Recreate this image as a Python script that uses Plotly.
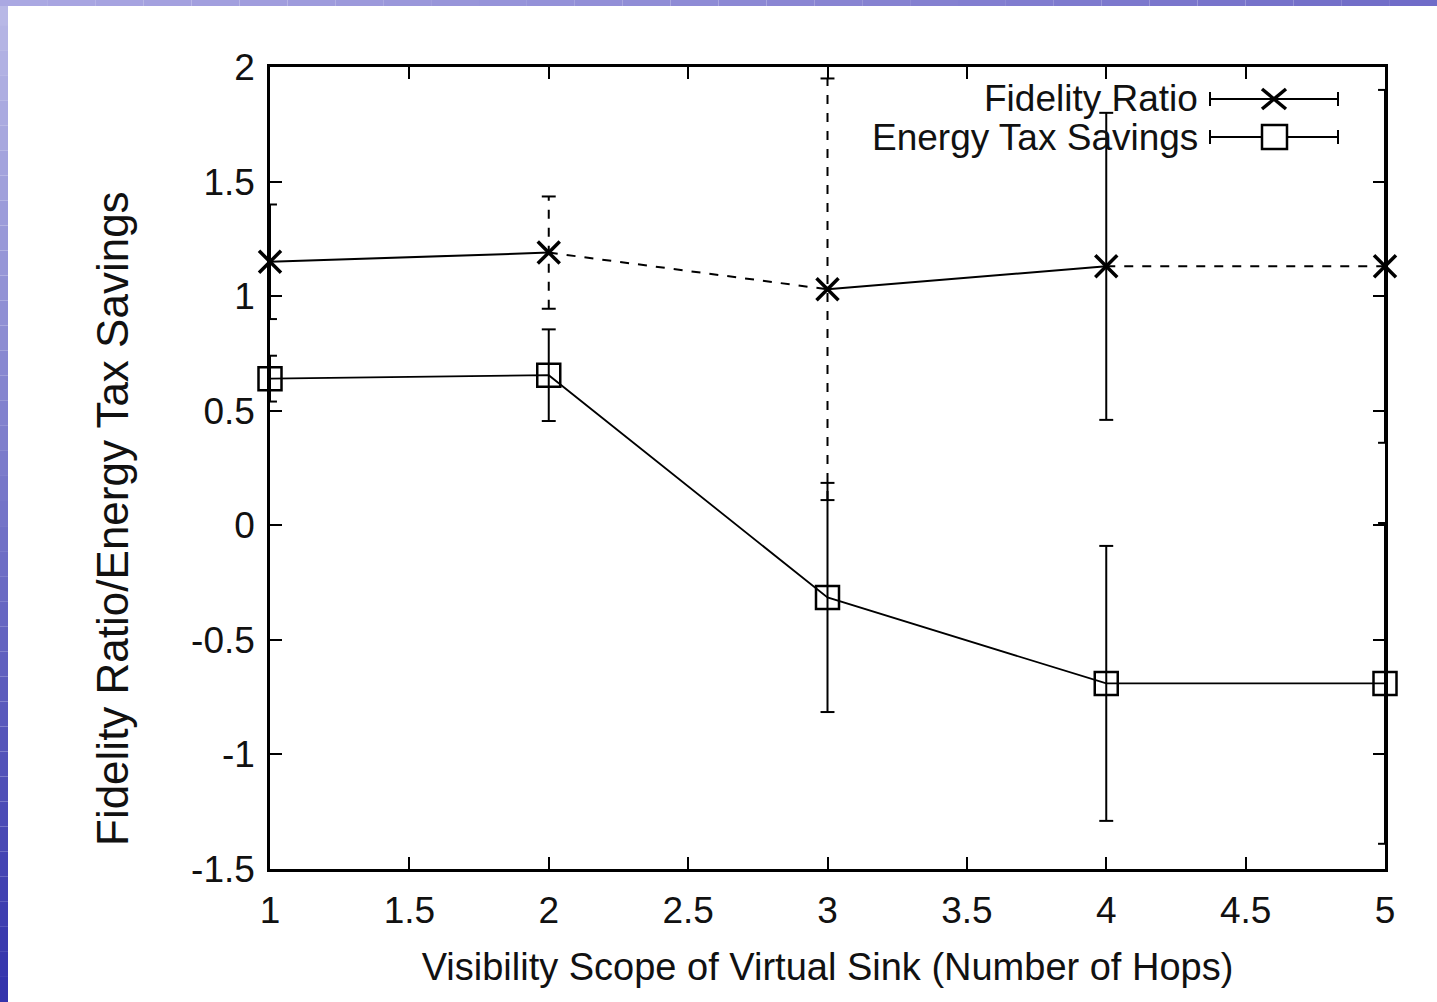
import plotly.graph_objects as go

# ---------------- data ----------------
hops = [1, 2, 3, 4, 5]
fidelity_ratio = [1.15, 1.19, 1.03, 1.13, 1.13]
fidelity_err = [0.25, 0.245, 0.92, 0.67, 0.77]
energy_savings = [0.64, 0.655, -0.315, -0.69, -0.69]
energy_err = [0.10, 0.20, 0.50, 0.60, 0.70]

x_ticks = [1, 1.5, 2, 2.5, 3, 3.5, 4, 4.5, 5]
y_ticks = [-1.5, -1, -0.5, 0, 0.5, 1, 1.5, 2]

series_names = ["Fidelity Ratio", "Energy Tax Savings"]
x_title = "Visibility Scope of Virtual Sink (Number of Hops)"
y_title = "Fidelity Ratio/Energy Tax Savings"

# ---------------- style ----------------
W, H = 1437, 1002
L, R, T, B = 270, 52, 67, 133
FONT = "Liberation Sans, Arial, sans-serif"
INK = "#000000"
TXT = "#111111"
CAP = 0.025  # half cap width in x-units
fid_seg_dash = ["solid", "dash", "solid", "dash"]
fid_bar_dash = ["solid", "dash", "dash", "solid", "solid"]


def fmt(v):
    return "%g" % v


def px(xp):
    return (xp - L) / (W - L - R)


def py(yp):
    return (H - B - yp) / (H - T - B)


fig = go.Figure()


def add_errbars(xs, ys, es, dashes):
    cap_x, cap_y = [], []
    for i, (x, y, e) in enumerate(zip(xs, ys, es)):
        fig.add_trace(go.Scatter(x=[x, x], y=[y - e, y + e], mode="lines",
                                 line=dict(color=INK, width=2, dash=dashes[i]),
                                 showlegend=False, hoverinfo="skip", cliponaxis=False))
        for yy in (y - e, y + e):
            cap_x += [x - CAP, x + CAP, None]
            cap_y += [yy, yy, None]
    fig.add_trace(go.Scatter(x=cap_x, y=cap_y, mode="lines",
                             line=dict(color=INK, width=2),
                             showlegend=False, hoverinfo="skip", cliponaxis=False))


add_errbars(hops, fidelity_ratio, fidelity_err, fid_bar_dash)
add_errbars(hops, energy_savings, energy_err, ["solid"] * len(hops))

# fidelity line, segment by segment
for i in range(len(hops) - 1):
    fig.add_trace(go.Scatter(x=hops[i:i + 2], y=fidelity_ratio[i:i + 2], mode="lines",
                             line=dict(color=INK, width=2, dash=fid_seg_dash[i]),
                             showlegend=False, hoverinfo="skip", cliponaxis=False))
# energy line
fig.add_trace(go.Scatter(x=hops, y=energy_savings, mode="lines",
                         line=dict(color=INK, width=1.8),
                         showlegend=False, hoverinfo="skip", cliponaxis=False))
# markers
fig.add_trace(go.Scatter(x=hops, y=fidelity_ratio, mode="markers", name=series_names[0],
                         marker=dict(symbol="x-thin-open", size=22, color=INK,
                                     line=dict(color=INK, width=3.5)),
                         showlegend=False, cliponaxis=False))
fig.add_trace(go.Scatter(x=hops, y=energy_savings, mode="markers", name=series_names[1],
                         marker=dict(symbol="square", size=23, color="rgba(0,0,0,0)",
                                     line=dict(color=INK, width=2.5)),
                         showlegend=False, cliponaxis=False))

# ---------------- slide background bands ----------------
shapes = []
n = 40
for k in range(n):
    t = k / (n - 1)
    r = int(184 + (52 - 184) * t)
    g = int(184 + (52 - 184) * t)
    b = int(230 + (172 - 230) * t)
    shapes.append(dict(type="rect", xref="paper", yref="paper",
                       x0=px(0), x1=px(8), y0=py(H * k / n), y1=py(H * (k + 1) / n),
                       fillcolor=f"rgb({r},{g},{b})", line=dict(width=0), layer="below"))
m = 30
for k in range(m):
    t = k / (m - 1)
    r = int(170 + (112 - 170) * t)
    g = int(168 + (108 - 168) * t)
    b = int(226 + (200 - 226) * t)
    shapes.append(dict(type="rect", xref="paper", yref="paper",
                       x0=px(W * k / m), x1=px(W * (k + 1) / m), y0=py(6), y1=py(0),
                       fillcolor=f"rgb({r},{g},{b})", line=dict(width=0), layer="below"))

# ---------------- legend (custom, gnuplot-style) ----------------
annotations = []
leg_rows = [99, 137]
for name, yp, kind in zip(series_names, leg_rows, ["x", "sq"]):
    annotations.append(dict(xref="paper", yref="paper", x=px(1200), y=py(yp),
                            xanchor="right", yanchor="middle", text=name, showarrow=False,
                            font=dict(family=FONT, size=37, color=TXT)))
    shapes.append(dict(type="line", xref="paper", yref="paper", x0=px(1210), x1=px(1338),
                       y0=py(yp), y1=py(yp), line=dict(color=INK, width=2)))
    for xe in (1210, 1338):
        shapes.append(dict(type="line", xref="paper", yref="paper", x0=px(xe), x1=px(xe),
                           y0=py(yp - 7), y1=py(yp + 7), line=dict(color=INK, width=2)))
    if kind == "x":
        shapes.append(dict(type="line", xref="paper", yref="paper", x0=px(1262), x1=px(1286),
                           y0=py(yp - 10), y1=py(yp + 10), line=dict(color=INK, width=3.5)))
        shapes.append(dict(type="line", xref="paper", yref="paper", x0=px(1262), x1=px(1286),
                           y0=py(yp + 10), y1=py(yp - 10), line=dict(color=INK, width=3.5)))
    else:
        shapes.append(dict(type="rect", xref="paper", yref="paper", x0=px(1262), x1=px(1287),
                           y0=py(yp + 12), y1=py(yp - 12), fillcolor="white",
                           line=dict(color=INK, width=2.5)))

annotations.append(dict(xref="paper", yref="paper", x=px(112), y=py(519),
                        xanchor="center", yanchor="middle", text=y_title, textangle=-90,
                        showarrow=False, font=dict(family=FONT, size=44, color=TXT)))

axis_common = dict(showline=True, linecolor=INK, linewidth=2.5, mirror="ticks",
                   ticks="inside", ticklen=12, tickwidth=2, tickcolor=INK,
                   showgrid=False, zeroline=False,
                   tickfont=dict(family=FONT, size=37, color=TXT))

fig.update_layout(
    width=W, height=H,
    margin=dict(l=L, r=R, t=T, b=B),
    paper_bgcolor="white", plot_bgcolor="white",
    showlegend=False,
    shapes=shapes, annotations=annotations,
    xaxis=dict(range=[1, 5], tickvals=x_ticks, ticktext=[fmt(v) for v in x_ticks],
               ticklabelstandoff=7,
               title=dict(text=x_title, font=dict(family=FONT, size=38, color=TXT), standoff=24),
               **axis_common),
    yaxis=dict(range=[-1.5, 2], tickvals=y_ticks, ticktext=[fmt(v) for v in y_ticks],
               ticklabelstandoff=5, **axis_common),
)

fig.write_html("out.html")
